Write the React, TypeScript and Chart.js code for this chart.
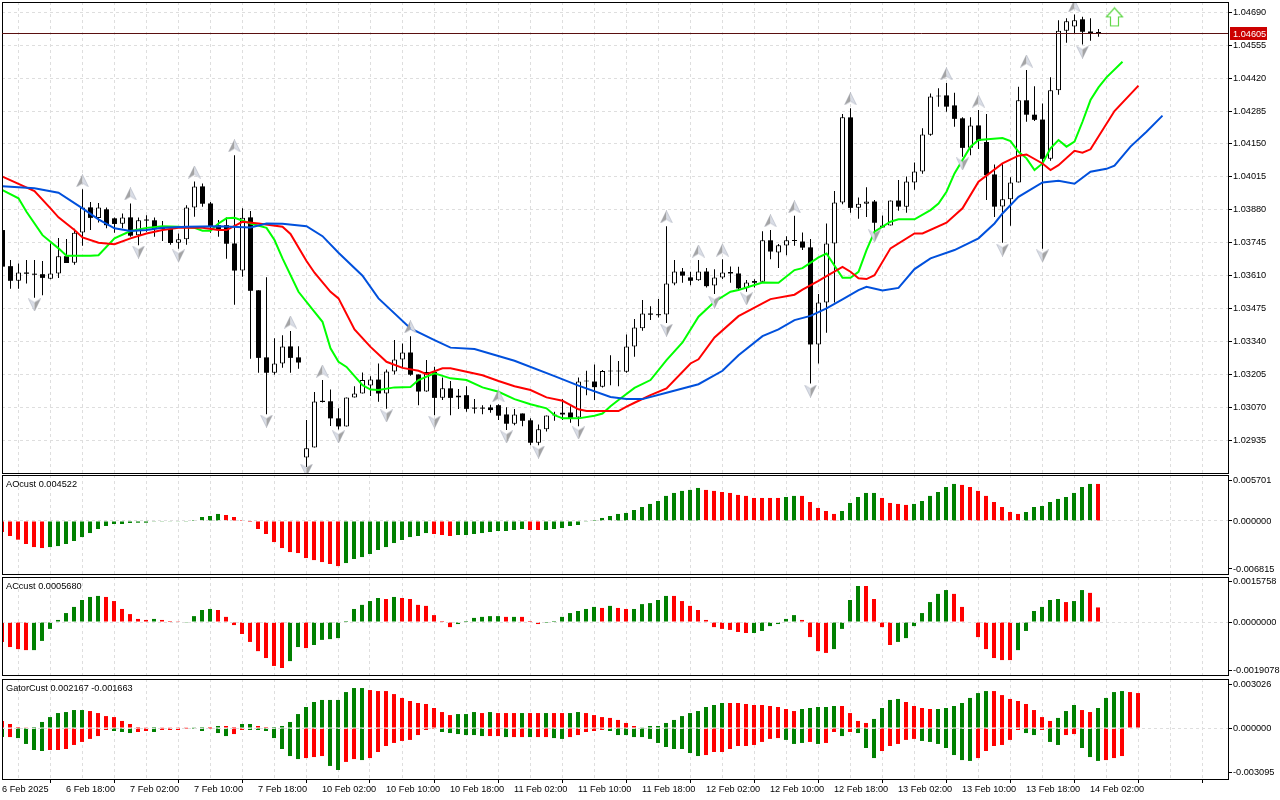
import { useEffect, useRef } from "react";
import { Chart, registerables } from "chart.js";

Chart.register(...registerables);

// Prices in 1e-5 units (points); converted by POINT on the way to the chart.
const POINT = 1e-5;

const timeLabels = ["6 Feb 2025", "6 Feb 18:00", "7 Feb 02:00", "7 Feb 10:00", "7 Feb 18:00", "10 Feb 02:00", "10 Feb 10:00", "10 Feb 18:00", "11 Feb 02:00", "11 Feb 10:00", "11 Feb 18:00", "12 Feb 02:00", "12 Feb 10:00", "12 Feb 18:00", "13 Feb 02:00", "13 Feb 10:00", "13 Feb 18:00", "14 Feb 02:00"];

const opens = [103797,103649,103589,103623,103616,103616,103597,103619,103690,103663,103787,103890,103846,103882,103845,103823,103849,103776,103837,103837,103803,103801,103745,103759,103890,103976,103906,103817,103817,103742,103631,103849,103550,103275,103212,103250,103320,103275,102865,102906,103097,103095,103025,102992,103111,103127,103160,103184,103127,103217,103266,103295,103205,103135,103215,103109,103148,103111,103120,103066,103066,103070,103079,103041,103003,103045,103017,102925,102980,103037,103048,103049,103029,103176,103176,103155,103217,103217,103216,103320,103394,103455,103451,103451,103578,103627,103603,103591,103627,103570,103603,103625,103619,103558,103588,103585,103755,103705,103734,103752,103750,103726,103328,103500,103742,103910,104259,103888,103905,103914,103815,103816,103918,103893,103992,104037,104188,104345,104349,104308,104255,104134,104226,104158,104025,103894,103923,103992,104329,104270,104250,104089,104370,104614,104632,104661,104611,104605];
const highs = [103797,103674,103660,103674,103674,103670,103742,103764,103760,103802,103964,103912,103908,103890,103849,103865,103906,103849,103858,103849,103834,103811,103783,103899,103996,103988,103912,103838,103849,104104,103886,103875,103550,103604,103353,103366,103383,103321,103018,103133,103182,103143,103066,103111,103157,103213,103198,103250,103225,103346,103332,103362,103205,103264,103237,103193,103178,103145,103157,103104,103079,103081,103083,103071,103063,103045,103025,103000,103037,103052,103104,103075,103193,103220,103246,103223,103284,103260,103369,103432,103510,103485,103514,103813,103674,103641,103626,103674,103641,103636,103677,103648,103647,103592,103595,103792,103797,103740,103772,103856,103787,103760,103535,103824,103957,104273,104296,103931,103973,103920,103857,103918,104002,104017,104074,104214,104357,104378,104400,104360,104259,104259,104289,104273,104066,104070,104014,104385,104453,104387,104316,104423,104657,104665,104681,104672,104665,104621];
const lows = [103647,103556,103556,103578,103519,103530,103595,103600,103662,103655,103733,103797,103828,103804,103786,103804,103770,103735,103790,103770,103752,103737,103720,103737,103852,103893,103786,103770,103679,103491,103606,103269,103212,103042,103204,103232,103212,103228,102826,102906,103090,102994,102979,102992,103111,103127,103117,103093,103064,103205,103234,103200,103079,103134,103038,103100,103038,103063,103052,103045,103042,103048,103018,102977,102997,102993,102915,102915,102971,103015,103018,103007,102993,103120,103100,103152,103161,103157,103212,103278,103384,103428,103439,103416,103571,103581,103571,103589,103562,103535,103596,103581,103551,103544,103562,103582,103677,103641,103694,103733,103715,103168,103250,103376,103500,103903,103868,103843,103851,103783,103806,103816,103876,103868,103962,104028,104184,104303,104282,104221,104098,104104,104129,103920,103851,103745,103815,103992,104241,104244,103720,104081,104352,104565,104603,104558,104573,104590];
const closes = [103647,103589,103623,103618,103614,103601,103619,103690,103662,103786,103890,103847,103890,103817,103822,103849,103774,103837,103836,103801,103801,103744,103759,103890,103976,103905,103813,103797,103741,103631,103847,103548,103273,103212,103250,103320,103273,103254,102902,103094,103092,103025,102992,103111,103127,103182,103184,103127,103217,103266,103295,103204,103135,103215,103109,103148,103109,103119,103064,103065,103065,103059,103036,103003,103041,103015,102925,102980,103037,103039,103041,103027,103176,103177,103153,103219,103218,103218,103320,103398,103455,103450,103448,103578,103627,103610,103589,103627,103567,103603,103623,103619,103558,103582,103581,103755,103709,103735,103755,103753,103725,103328,103500,103742,103910,104259,103888,103905,103914,103827,103808,103918,103893,103996,104037,104189,104345,104349,104303,104253,104134,104226,104163,104022,103893,103923,103992,104329,104270,104249,104089,104370,104614,104653,104657,104610,104605,104605];

const currentPrice = 104605;

const jawBars = [0,4,7,10,12,14,16,18,20,23,27,31,33,35,38,40,42,45,47,51,54,56,59,64,69,72,76,78,80,83,87,90,92,95,97,99,101,103,105,107,108,110,112,114,116,119,122,124,125,127,130,132,134,136,138,139,141,143,145];
const jawLevels = [103977,103968,103950,103886,103841,103804,103793,103797,103806,103811,103813,103808,103824,103823,103813,103772,103704,103610,103517,103394,103346,103315,103309,103261,103198,103159,103113,103104,103104,103130,103165,103220,103284,103362,103390,103428,103445,103476,103513,103551,103564,103549,103560,103637,103681,103715,103763,103824,103865,103933,103992,103999,103987,104036,104048,104061,104139,104200,104266];

const teethBars = [0,2,4,6,7,9,10,12,14,16,18,20,22,25,27,28,30,32,35,36,38,39,41,42,44,46,48,50,52,53,55,56,58,60,62,64,66,68,70,72,73,75,77,78,79,81,83,86,87,89,92,95,96,99,100,102,103,105,106,107,108,109,111,114,115,118,120,122,125,127,128,130,131,132,134,135,136,139,142];
const teethLevels = [104016,103986,103957,103886,103849,103797,103767,103745,103739,103763,103783,103797,103806,103806,103797,103797,103831,103824,103811,103781,103670,103622,103544,103517,103390,103318,103257,103232,103220,103206,103230,103230,103216,103202,103178,103157,103141,103111,103097,103062,103055,103055,103055,103073,103089,103120,103148,103250,103267,103357,103444,103496,103514,103532,103553,103589,103608,103646,103626,103599,103596,103612,103722,103783,103783,103827,103886,103995,104070,104102,104107,104070,104043,104063,104122,104114,104128,104285,104389];

const lipsBars = [0,2,3,5,7,8,11,12,14,16,18,20,22,24,25,26,27,28,29,31,33,34,35,37,39,40,41,42,43,45,46,47,49,51,52,54,56,58,60,62,64,66,68,69,70,72,74,75,76,77,79,81,83,85,87,89,91,92,95,97,99,100,102,103,105,106,107,108,109,111,112,114,116,117,118,119,120,121,122,125,126,127,128,129,130,131,132,133,134,135,136,137,138,140];
const lipsLevels = [103961,103927,103872,103776,103722,103692,103692,103694,103763,103793,103806,103813,103811,103806,103794,103794,103824,103845,103847,103824,103806,103756,103681,103544,103462,103421,103312,103257,103236,103161,103143,103141,103152,103154,103182,103210,103189,103182,103152,103134,103104,103083,103066,103038,103025,103025,103036,103045,103075,103100,103150,103182,103264,103336,103442,103503,103544,103551,103582,103581,103633,103641,103685,103701,103601,103601,103626,103715,103790,103831,103841,103841,103879,103906,103954,104029,104084,104139,104166,104174,104162,104118,104091,104043,104070,104132,104166,104139,104160,104241,104330,104382,104423,104487];

const fractalUpBars = [10,16,24,29,36,40,51,62,83,87,90,96,99,106,118,122,128,134];
const fractalUpLevels = [103999,103945,104035,104142,103420,103219,103400,103117,103851,103711,103715,103835,103892,104335,104437,104326,104490,104716];
const fractalDownBars = [4,17,22,33,38,42,48,54,63,67,72,83,89,93,101,109,120,125,130,135];
const fractalDownLevels = [103490,103707,103691,103014,102813,102949,103035,103010,102949,102887,102965,103387,103502,103515,103137,103773,104068,103715,103691,104527];
const signalBars = [139];
const signalLevels = [104671];

const aoValues = [-156,-213,-265,-327,-370,-384,-370,-356,-327,-284,-228,-171,-114,-71,-43,-43,-28,-24,-24,-10,-10,-5,-5,-10,14,57,71,100,85,57,14,-14,-114,-185,-299,-384,-441,-455,-526,-555,-583,-611,-640,-597,-540,-512,-469,-412,-370,-313,-270,-228,-213,-171,-185,-199,-213,-199,-199,-185,-171,-156,-142,-142,-128,-114,-128,-128,-128,-114,-100,-71,-57,-10,14,43,71,100,114,156,199,242,284,356,398,427,441,469,441,427,412,398,370,356,327,327,327,327,341,356,356,270,185,142,100,142,256,341,398,398,327,256,242,228,242,284,356,412,483,526,512,483,427,356,270,199,128,100,128,199,213,270,313,341,398,483,526,526];
const aoColors = "rrrrrrgggg" + "gggggggggg" + "ggggggggrr" + "rrrrrrrrrr" + "rrrggggggg" + "ggggrrrggg" + "ggggggrrgg" + "gggggggggg" + "ggggggggrr" + "rrrrrrrrgg" + "rrrrrggggg" + "rrrrgggggg" + "rrrrrrrrgg" + "gggggggr";

const acValues = [-78,-98,-106,-110,-110,-74,-27,8,35,59,86,98,102,98,82,51,31,12,8,12,8,4,1,-3,23,47,51,47,20,-12,-47,-78,-114,-141,-172,-180,-153,-98,-102,-90,-70,-67,-63,4,51,67,82,94,90,98,94,90,67,63,27,4,-20,-8,4,16,20,23,23,20,20,20,4,-8,-4,4,20,35,43,51,59,55,63,55,51,51,70,74,86,102,102,82,63,47,8,-20,-27,-31,-39,-43,-43,-35,-16,-8,12,27,8,-59,-114,-121,-106,-27,86,141,141,90,-20,-90,-78,-63,-16,35,78,110,125,110,59,0,-59,-106,-141,-149,-149,-110,-35,43,59,86,90,78,82,125,114,57];
const acColors = "rrrrgggggg" + "gggrrrrrrg" + "rrrggggrrr" + "rrrrrrggrg" + "ggggggggrg" + "rrrrrrrggg" + "gggrgrrrgg" + "gggggrgrrg" + "ggggrrrrrr" + "rrrrgggggg" + "rrrrggggrr" + "rrgggggggr" + "rrrrrrrggg" + "gggrggrr";

const gatorUpValues = [49,28,7,2,7,42,76,104,111,125,125,118,104,83,76,49,28,7,2,7,5,5,2,2,2,7,7,14,14,7,28,28,14,7,7,14,42,97,146,181,195,195,195,250,278,278,264,257,257,236,209,188,174,167,139,111,90,97,97,111,104,111,104,104,104,104,104,104,104,104,104,104,111,104,90,76,70,56,35,14,2,14,14,35,56,83,104,118,146,160,174,174,174,167,160,160,153,146,132,118,132,139,146,146,153,153,104,49,35,63,139,195,202,181,153,139,132,132,139,153,174,209,243,257,257,229,202,188,167,125,76,49,70,118,160,125,111,139,209,250,257,250,243];
const gatorUpColors = "rrrrgggggg" + "grrrrrrrrg" + "rrrrggrgrr" + "ggrrgggggg" + "ggggggrrrr" + "rrrrrrrggg" + "rgrrrgrrgr" + "rggrrrrrrr" + "gggggggggg" + "grrrrrrrrr" + "gggggrrrrg" + "gggrrrrggg" + "ggggrrrrrr" + "rrgggrrggg" + "grr";
const gatorDownValues = [-63,-63,-70,-111,-153,-160,-153,-153,-146,-118,-97,-76,-56,-14,-21,-28,-35,-28,-21,-28,-14,-14,-14,-7,-7,-21,-7,-35,-56,-42,-14,-14,-14,-21,-70,-146,-195,-216,-209,-202,-195,-264,-292,-236,-216,-223,-209,-167,-125,-104,-90,-83,-49,-14,-7,-28,-35,-42,-49,-49,-56,-56,-56,-63,-63,-63,-63,-63,-63,-70,-76,-63,-49,-28,-21,-14,-21,-49,-49,-63,-63,-76,-104,-132,-146,-146,-174,-195,-188,-167,-167,-146,-125,-125,-118,-97,-76,-70,-83,-111,-104,-97,-111,-104,-28,-56,-28,-35,-139,-209,-160,-125,-111,-83,-76,-90,-97,-111,-139,-188,-223,-229,-209,-160,-125,-118,-83,-14,-35,-49,-14,-97,-118,-49,-42,-139,-202,-229,-223,-209,-195];
const gatorDownColors = "grggggrrrr" + "rrrrgggrrg" + "rrrrggrggr" + "rgggggggrr" + "rggrrgrrrr" + "rrrrrggggg" + "grrgrrgrrg" + "grrrrrgggg" + "ggggggggrr" + "rrrrrrrrgg" + "grgrrgrggg" + "rrrrrggggg" + "ggrrrrrrgg" + "rggrrgggrr" + "r";

const mainTicks = [1.02935,1.0307,1.03205,1.0334,1.03475,1.0361,1.03745,1.0388,1.04015,1.0415,1.04285,1.0442,1.04555,1.0469];
const aoTicks = [-0.006815, 0, 0.005701];
const acTicks = [-0.0019078, 0, 0.0015758];
const gatorTicks = [-0.003095, 0, 0.003026];

const FONT = { family: "'Liberation Sans', Arial, sans-serif", size: 9.2 };
const GRID = "#dedede";
const RED = "#ff0000";
const GREEN = "#008000";

const xTickBars = Array.from({ length: 39 }, (_, i) => i * 4);

function arrowIcon(up: boolean) {
  const c = document.createElement("canvas");
  c.width = 13;
  c.height = 13;
  const g = c.getContext("2d")!;
  if (!up) {
    g.translate(0, 13);
    g.scale(1, -1);
  }
  g.beginPath(); g.moveTo(6.5, 0); g.lineTo(6.5, 9); g.lineTo(0.5, 12.5); g.closePath();
  g.fillStyle = up ? "#a4a4a4" : "#d9dde6"; g.fill();
  g.beginPath(); g.moveTo(6.5, 0); g.lineTo(6.5, 9); g.lineTo(12.5, 12.5); g.closePath();
  g.fillStyle = up ? "#d9dde6" : "#a4a4a4"; g.fill();
  g.beginPath(); g.moveTo(6.5, 0.5); g.lineTo(0.5, 12.5); g.lineTo(6.5, 9); g.lineTo(12.5, 12.5); g.closePath();
  g.strokeStyle = "rgba(150,155,170,0.55)"; g.lineWidth = 0.7; g.stroke();
  return c;
}

function signalIcon() {
  const c = document.createElement("canvas");
  c.width = 19;
  c.height = 21;
  const g = c.getContext("2d")!;
  g.beginPath();
  g.moveTo(9.5, 1.5); g.lineTo(17.5, 10.5); g.lineTo(13.5, 10.5); g.lineTo(13.5, 19.5);
  g.lineTo(5.5, 19.5); g.lineTo(5.5, 10.5); g.lineTo(1.5, 10.5); g.closePath();
  g.fillStyle = "#ffffff"; g.fill();
  g.strokeStyle = "#62d84a"; g.lineWidth = 1.2; g.stroke();
  return c;
}

const frame = {
  id: "frame",
  afterDraw(chart: any, _a: any, opts: any) {
    const { ctx, chartArea: a } = chart;
    ctx.save();
    ctx.strokeStyle = "#000";
    ctx.lineWidth = 1;
    ctx.strokeRect(a.left + 0.5, a.top + 0.5, a.right - a.left, a.bottom - a.top);
    ctx.font = `${FONT.size}px ${FONT.family}`;
    ctx.textBaseline = "middle";
    if (opts.caption) {
      ctx.fillStyle = "#000";
      ctx.textAlign = "left";
      ctx.fillText(opts.caption, a.left + 4, a.top + 9);
    }
    if (opts.price) {
      const y = Math.round(chart.scales.y.getPixelForValue(opts.price)) + 0.5;
      ctx.strokeStyle = "#5a1010";
      ctx.beginPath(); ctx.moveTo(a.left, y); ctx.lineTo(a.right, y); ctx.stroke();
      ctx.fillStyle = "#cc0000";
      ctx.fillRect(a.right + 2, y - 6.5, 37, 13);
      ctx.fillStyle = "#fff";
      ctx.textAlign = "left";
      ctx.fillText(opts.price.toFixed(5), a.right + 5, y + 0.5);
    }
    ctx.restore();
  },
};

function baseOptions(
  xMin: number,
  yMin: number,
  yMax: number,
  yTicks: number[],
  digits: number,
  top: number,
  bottom: number,
  showTime: boolean,
  zeroOnly: boolean,
  pluginOpts: any,
) {
  return {
    animation: false as const,
    responsive: false,
    devicePixelRatio: 1,
    events: [],
    layout: { autoPadding: false, padding: { left: 2, right: 0, top, bottom: showTime ? 0 : bottom } },
    plugins: { legend: { display: false }, tooltip: { enabled: false }, frame: pluginOpts },
    scales: {
      x: {
        type: "linear" as const,
        offset: false,
        min: xMin,
        max: xMin + 153.25,
        afterBuildTicks: (s: any) => { s.ticks = xTickBars.map((value) => ({ value })); },
        afterFit: (s: any) => { s.paddingLeft = 0; s.paddingRight = 0; s.height = showTime ? 21 : 0; },
        border: { display: false, dash: [3, 3] },
        grid: {
          color: GRID,
          drawTicks: showTime,
          tickLength: 4,
          tickBorderDash: [],
          tickColor: (c: any) => (c.tick && c.tick.value % 8 === 0 ? "#000" : "rgba(0,0,0,0)"),
        },
        ticks: {
          display: showTime,
          autoSkip: false,
          maxRotation: 0,
          minRotation: 0,
          align: "start" as const,
          padding: 1,
          color: "#000",
          font: FONT,
          callback: (v: any) => (v % 8 === 0 ? timeLabels[v / 8] ?? "" : ""),
        },
      },
      y: {
        position: "right" as const,
        min: yMin,
        max: yMax,
        afterBuildTicks: (s: any) => { s.ticks = yTicks.map((value) => ({ value })); },
        afterFit: (s: any) => { s.width = 52; s.paddingTop = 0; s.paddingBottom = 0; },
        border: { display: false, dash: [3, 3] },
        grid: {
          color: (c: any) => (!zeroOnly || (c.tick && c.tick.value === 0) ? GRID : "rgba(0,0,0,0)"),
          z: zeroOnly ? 1 : 0,
          tickLength: 4,
          tickBorderDash: [],
          tickColor: "#000",
        },
        ticks: {
          padding: 1,
          color: "#000",
          font: FONT,
          autoSkip: false,
          callback: (v: any) => Number(v).toFixed(digits),
        },
      },
    },
  };
}

const pts = (bars: number[], levels: number[]) => bars.map((x, i) => ({ x, y: levels[i] * POINT }));
const tint = (codes: string) => codes.split("").map((c) => (c === "r" ? RED : GREEN));

function barSet(values: number[], codes: string) {
  return {
    type: "bar" as const,
    data: values.map((v, x) => ({ x, y: v * POINT })),
    backgroundColor: tint(codes),
    barThickness: 4,
    grouped: false,
    inflateAmount: 0,
  };
}

function mainConfig(): any {
  const idx = opens.map((_, i) => i);
  const bull = idx.filter((i) => closes[i] >= opens[i]);
  const bear = idx.filter((i) => closes[i] < opens[i]);
  const body = (i: number) => ({
    x: i,
    y: [Math.min(opens[i], closes[i]) * POINT, Math.max(opens[i], closes[i]) * POINT],
  });
  const line = (bars: number[], levels: number[], color: string) => ({
    type: "line" as const,
    data: pts(bars, levels),
    borderColor: color,
    borderWidth: 2,
    pointRadius: 0,
    tension: 0,
    order: 3,
  });
  return {
    data: {
      datasets: [
        { type: "bar", data: idx.map((i) => ({ x: i, y: [lows[i] * POINT, highs[i] * POINT] })), backgroundColor: "#000", barThickness: 1, grouped: false, inflateAmount: 0, order: 6 },
        { type: "bar", data: bull.map(body), backgroundColor: "#fff", borderColor: "#000", borderWidth: 1, borderSkipped: false, barThickness: 5, minBarLength: 1, grouped: false, inflateAmount: 0, order: 5 },
        { type: "bar", data: bear.map(body), backgroundColor: "#000", barThickness: 5, minBarLength: 1, grouped: false, inflateAmount: 0, order: 5 },
        line(jawBars, jawLevels, "#0050dc"),
        line(teethBars, teethLevels, RED),
        line(lipsBars, lipsLevels, "#00ff00"),
        { type: "scatter", data: pts(fractalUpBars, fractalUpLevels), pointStyle: arrowIcon(true), order: 1 },
        { type: "scatter", data: pts(fractalDownBars, fractalDownLevels), pointStyle: arrowIcon(false), order: 1 },
        { type: "scatter", data: pts(signalBars, signalLevels), pointStyle: signalIcon(), order: 1 },
      ],
    },
    options: baseOptions(-0.0625, 1.02801, 1.04732, mainTicks, 5, 2, 2, false, false, { price: currentPrice * POINT }),
    plugins: [frame],
  };
}

function aoConfig(): any {
  return {
    data: { datasets: [barSet(aoValues, aoColors)] },
    options: baseOptions(0, -0.007526, 0.00653, aoTicks, 6, 0, 1, false, true, { caption: "AOcust 0.004522" }),
    plugins: [frame],
  };
}

function acConfig(): any {
  return {
    data: { datasets: [barSet(acValues, acColors)] },
    options: baseOptions(0, -0.002074, 0.001761, acTicks, 7, 0, 1, false, true, { caption: "ACcust 0.0005680" }),
    plugins: [frame],
  };
}

function gatorConfig(): any {
  return {
    data: { datasets: [barSet(gatorUpValues, gatorUpColors), barSet(gatorDownValues, gatorDownColors)] },
    options: baseOptions(0, -0.003547, 0.003408, gatorTicks, 6, 0, 0, true, true, { caption: "GatorCust 0.002167 -0.001663" }),
    plugins: [frame],
  };
}

const panels = [
  { top: 0, height: 475, make: mainConfig },
  { top: 475, height: 100, make: aoConfig },
  { top: 577, height: 99, make: acConfig },
  { top: 679, height: 121, make: gatorConfig },
];

function Panel({ top, height, make }: { top: number; height: number; make: () => any }) {
  const ref = useRef<HTMLCanvasElement>(null);
  useEffect(() => {
    const chart = new Chart(ref.current!, make());
    return () => chart.destroy();
  }, [make]);
  return (
    <canvas
      ref={ref}
      width={1280}
      height={height}
      style={{ position: "absolute", left: 0, top, width: 1280, height, display: "block" }}
    />
  );
}

export default function App() {
  return (
    <div style={{ position: "fixed", left: 0, top: 0, width: 1280, height: 800, background: "#fff", overflow: "hidden" }}>
      {panels.map((p) => (
        <Panel key={p.top} {...p} />
      ))}
    </div>
  );
}
